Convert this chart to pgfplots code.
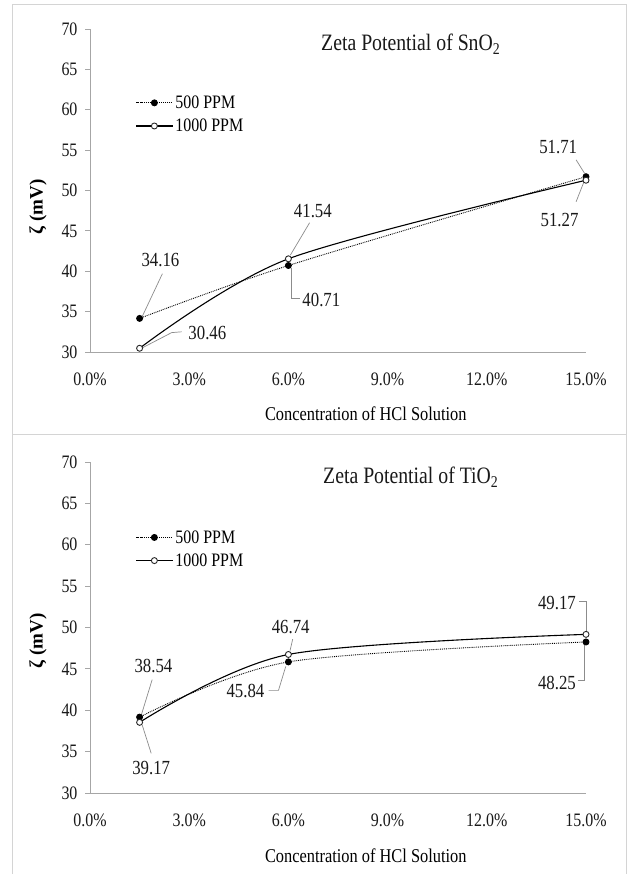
\documentclass[border=0pt]{standalone}
\usepackage{pgfplots}
\pgfplotsset{compat=1.18}
\usepackage{fontspec}
\setmainfont{Liberation Serif}[FakeStretch=0.84]
\newfontfamily\ylfont{Liberation Serif}
\definecolor{axgray}{HTML}{A6A6A6}
\definecolor{leadgray}{HTML}{8C8C8C}
\definecolor{framegray}{HTML}{D4D4D4}
\newcommand{\fs}[1]{\fontsize{#1}{#1}\selectfont}
\tikzset{
  lead/.style={draw=leadgray, line width=0.7pt},
  dlab/.style={font=\fs{20}, text=black!90, inner sep=0pt},
}
\pgfplotsset{
  zstyle/.style={
    scale only axis, width=496pt,
    xmin=0, xmax=15, ymin=30, ymax=70,
    clip=false,
    axis lines*=left,
    axis line style={draw=axgray, line width=0.9pt},
    xtick={0,3,6,9,12,15},
    xticklabels={0.0\%,3.0\%,6.0\%,9.0\%,12.0\%,15.0\%},
    ytick={30,35,...,70},
    tick align=outside,
    major tick length=5pt,
    xtick style={draw=none},
    ytick style={draw=axgray, line width=0.9pt},
    /pgf/number format/assume math mode=true,
    tick label style={font=\fs{19}, text=black!90},
    xticklabel style={yshift=-12pt},
    yticklabel style={xshift=-4pt},
    xlabel={Concentration of HCl Solution},
    xlabel style={at={(axis description cs:0.556,-0.19)}, anchor=center, font=\fs{19.5}},
    ylabel={\ylfont\bfseries ζ (mV)},
    ylabel style={at={(axis description cs:-0.105,0.45)}, anchor=center, font=\fs{19}},
    legend cell align=left,
    legend style={draw=none, fill=none, at={(axis description cs:0.092,0.80)}, anchor=north west,
      font=\fs{19}, row sep=5pt, inner sep=0pt, nodes={inner xsep=2.5pt}},
    legend image code/.code={
      \draw[mark repeat=2, mark phase=2, #1] plot coordinates {(0pt,0pt) (18pt,0pt) (36pt,0pt)};
    },
  },
  p500/.style={black, densely dotted, line width=0.9pt, smooth, mark=*, mark size=3pt,
    mark options={solid, fill=black}},
  p1000/.style={black, solid, line width=1.1pt, smooth, mark=*, mark size=3pt,
    mark options={solid, fill=white, draw=black!85, line width=0.9pt}},
}
\begin{document}
\begin{tikzpicture}
\useasboundingbox (0,0) rectangle (628pt,874pt);
\fill[white] (0,0) rectangle (628pt,874pt);
\draw[framegray, line width=1pt] (12pt,439pt) rectangle (626pt,869pt);
\draw[framegray, line width=1pt] (12pt,-2pt) rectangle (626pt,439pt);

% ---------------- Top panel: SnO2 ----------------
\begin{axis}[zstyle, height=323pt, at={(90pt,522pt)}, anchor=south west]
\addplot[p500] coordinates {(1.5,34.16) (6,40.71) (15,51.71)};
\addlegendentry{500 PPM}
\addplot[p1000] coordinates {(1.5,30.46) (6,41.54) (15,51.27)};
\addlegendentry{1000 PPM}
\node[font=\fs{23.5}, text=black!90] at (axis cs:9.7,68.1) {Zeta Potential of SnO\textsubscript{2}};
% labels
\draw[lead] (axis cs:2.19,39.7) -- (axis cs:1.58,34.4);
\node[dlab] at (axis cs:2.13,41.4) {34.16};
\draw[lead] (axis cs:2.77,32.5) -- (axis cs:2.47,32.4) -- (axis cs:1.6,30.55);
\node[dlab] at (axis cs:3.55,32.4) {30.46};
\draw[lead] (axis cs:6.64,46.0) -- (axis cs:6.06,42.0);
\node[dlab] at (axis cs:6.74,47.4) {41.54};
\draw[lead] (axis cs:6.1,40.45) -- (axis cs:6.1,36.65) -- (axis cs:6.35,36.65);
\node[dlab, anchor=west] at (axis cs:6.42,36.4) {40.71};
\draw[lead] (axis cs:14.7,53.8) -- (axis cs:14.96,52.1);
\node[dlab] at (axis cs:14.16,55.4) {51.71};
\draw[lead] (axis cs:14.7,48.6) -- (axis cs:14.94,51.1);
\node[dlab] at (axis cs:14.2,46.3) {51.27};
\end{axis}

% ---------------- Bottom panel: TiO2 ----------------
\begin{axis}[zstyle, height=331pt, at={(90pt,81pt)}, anchor=south west,
  ylabel style={at={(axis description cs:-0.105,0.46)}}]
\addplot[p500] coordinates {(1.5,39.17) (6,45.84) (15,48.25)};
\addlegendentry{500 PPM}
\addplot[p1000] coordinates {(1.5,38.54) (6,46.74) (15,49.17)};
\addlegendentry{1000 PPM}
\node[font=\fs{23.5}, text=black!90] at (axis cs:9.7,68.2) {Zeta Potential of TiO\textsubscript{2}};
% labels
\draw[lead] (axis cs:1.88,43.7) -- (axis cs:1.55,39.4);
\node[dlab] at (axis cs:1.92,45.4) {38.54};
\draw[lead] (axis cs:1.85,34.8) -- (axis cs:1.58,38.2);
\node[dlab] at (axis cs:1.85,33.0) {39.17};
\draw[lead] (axis cs:6.13,48.6) -- (axis cs:6.05,47.2);
\node[dlab] at (axis cs:6.07,50.0) {46.74};
\draw[lead] (axis cs:5.4,42.4) -- (axis cs:5.7,42.4) -- (axis cs:5.92,45.3);
\node[dlab] at (axis cs:4.7,42.3) {45.84};
\draw[lead] (axis cs:14.8,53.2) -- (axis cs:15.0,53.2) -- (axis cs:15.0,49.6);
\node[dlab] at (axis cs:14.12,53.0) {49.17};
\draw[lead] (axis cs:14.75,43.6) -- (axis cs:14.95,43.6) -- (axis cs:14.95,47.9);
\node[dlab] at (axis cs:14.12,43.3) {48.25};
\end{axis}
\end{tikzpicture}
\end{document}
